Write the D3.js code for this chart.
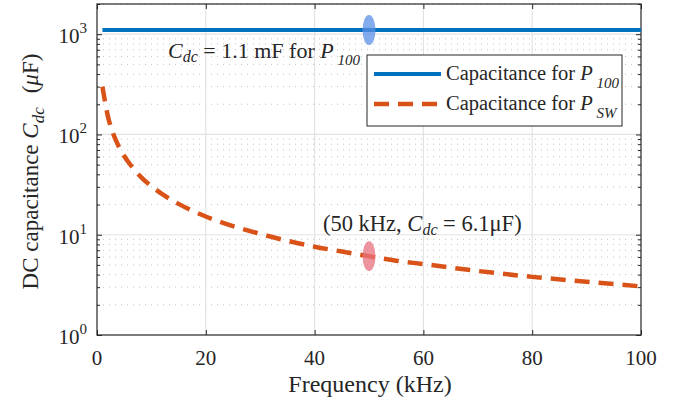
<!DOCTYPE html>
<html>
<head>
<meta charset="utf-8">
<script src="https://cdn.jsdelivr.net/npm/d3@7"></script>
<style>
  body { margin: 0; background: #fff; }
  svg, svg text, svg tspan { font-family: "Liberation Serif", "Times New Roman", "DejaVu Serif", serif; }
  svg text { fill: #262626; }
</style>
</head>
<body>
<svg id="chart" width="690" height="406" font-family="Liberation Serif, Times New Roman, serif"></svg>
<script>
// Frequency sweep (kHz) and required DC-link capacitance (µF)
const freqP100 = [1, 100];
const capP100 = [1100, 1100];
const freqPsw = [1, 2, 3, 4, 5, 6, 8, 10, 12, 15, 20, 25, 30, 35, 40, 45, 50, 55, 60, 70, 80, 90, 100];
const capPsw = [300, 152, 101, 76, 61, 51, 38, 30.5, 25.4, 20.3, 15.2, 12.2, 10.2, 8.7, 7.6, 6.8, 6.1, 5.5, 5.1, 4.35, 3.8, 3.4, 3.05];
const xTicks = [0, 20, 40, 60, 80, 100];
const yDecades = [1, 10, 100, 1000];
const yExp = ["0", "1", "2", "3"];
const markerPoints = [{ f: 50, c: 1100, color: "#5b8fe6" }, { f: 50, c: 6.1, color: "#e8707e" }];

const FONT = "Liberation Serif, Times New Roman, serif";
const svg = d3.select("#chart");
const m = { left: 97, right: 641, top: 4, bottom: 335 };
const x = d3.scaleLinear().domain([0, 100]).range([m.left, m.right]);
const y = d3.scaleLog().domain([1, 2000]).range([m.bottom, m.top]);

function txt(sel) { return sel.append("text").attr("font-family", FONT).attr("fill", "#262626"); }

// minor grid (dotted) at 2..9 of each decade
const minor = [];
yDecades.forEach(d => { for (let k = 2; k <= 9; k++) { if (d * k <= 2000) minor.push(d * k); } });
svg.append("g").selectAll("line").data(minor).join("line")
  .attr("x1", m.left).attr("x2", m.right)
  .attr("y1", d => y(d)).attr("y2", d => y(d))
  .attr("stroke", "#c4c4c4").attr("stroke-width", 1).attr("stroke-dasharray", "1,5");

// major grid
svg.append("g").selectAll("line").data(yDecades.slice(1)).join("line")
  .attr("x1", m.left).attr("x2", m.right)
  .attr("y1", d => y(d)).attr("y2", d => y(d))
  .attr("stroke", "#e3e3e3").attr("stroke-width", 1.2);
svg.append("g").selectAll("line").data(xTicks.slice(1, -1)).join("line")
  .attr("x1", d => x(d)).attr("x2", d => x(d))
  .attr("y1", m.top).attr("y2", m.bottom)
  .attr("stroke", "#e3e3e3").attr("stroke-width", 1.2);

// axes (inward ticks, boxed)
const axB = d3.axisBottom(x).tickValues(xTicks).tickSize(-5).tickFormat("");
const axT = d3.axisTop(x).tickValues(xTicks).tickSize(-5).tickFormat("");
const axL = d3.axisLeft(y).tickValues(yDecades).tickSize(-5).tickFormat("");
const axR = d3.axisRight(y).tickValues(yDecades).tickSize(-5).tickFormat("");
const axLm = d3.axisLeft(y).tickValues(minor).tickSize(-3).tickFormat("");
const axRm = d3.axisRight(y).tickValues(minor).tickSize(-3).tickFormat("");
[[axB, `translate(0,${m.bottom})`], [axT, `translate(0,${m.top})`], [axL, `translate(${m.left},0)`],
 [axR, `translate(${m.right},0)`], [axLm, `translate(${m.left},0)`], [axRm, `translate(${m.right},0)`]]
  .forEach(([a, t]) => {
    const g = svg.append("g").attr("transform", t).call(a);
    g.select(".domain").remove();
    g.selectAll("line").attr("stroke", "#262626");
  });
svg.append("rect").attr("x", m.left).attr("y", m.top)
  .attr("width", m.right - m.left).attr("height", m.bottom - m.top)
  .attr("fill", "none").attr("stroke", "#262626").attr("stroke-width", 1.2);

// tick labels
const xl = svg.append("g");
xTicks.forEach(d => {
  txt(xl).attr("x", x(d)).attr("y", 365).attr("text-anchor", "middle").attr("font-size", 21).text(d);
});
const ylg = svg.append("g");
yDecades.forEach((d, i) => {
  const t = txt(ylg).attr("x", 87).attr("y", y(d) + 9).attr("text-anchor", "end").attr("font-size", 21);
  t.append("tspan").text("10");
  t.append("tspan").attr("dy", -10).attr("font-size", 15).text(yExp[i]);
});

// axis titles
txt(svg).attr("x", (m.left + m.right) / 2 + 1).attr("y", 392)
  .attr("text-anchor", "middle").attr("font-size", 24).text("Frequency (kHz)");
const yt = txt(svg).attr("transform", `translate(38,${(m.top + m.bottom) / 2 + 2}) rotate(-90)`)
  .attr("text-anchor", "middle").attr("font-size", 23);
yt.append("tspan").text("DC capacitance ");
yt.append("tspan").attr("font-style", "italic").text("C");
yt.append("tspan").attr("font-style", "italic").attr("font-size", 17).attr("dy", 6).text("dc");
yt.append("tspan").attr("dy", -6).attr("dx", 14).text("(");
yt.append("tspan").attr("font-style", "italic").text("\u03bc");
yt.append("tspan").text("F)");

// series
const line = d3.line().x(d => x(d[0])).y(d => y(d[1]));
svg.append("path").datum(d3.zip(freqP100, capP100)).attr("d", line)
  .attr("fill", "none").attr("stroke", "#0072BD").attr("stroke-width", 4);
svg.append("path").datum(d3.zip(freqPsw, capPsw)).attr("d", d3.line().curve(d3.curveMonotoneX).x(d => x(d[0])).y(d => y(d[1])))
  .attr("fill", "none").attr("stroke", "#D95319").attr("stroke-width", 4.5)
  .attr("stroke-dasharray", "15,9");

// highlighted operating points
svg.append("g").selectAll("ellipse").data(markerPoints).join("ellipse")
  .attr("cx", d => x(d.f)).attr("cy", d => y(d.c)).attr("rx", 6.5).attr("ry", 15)
  .attr("fill", d => d.color).attr("opacity", 0.75);

// annotations
const a1 = txt(svg).attr("x", 168).attr("y", 58).attr("font-size", 22);
a1.append("tspan").attr("font-style", "italic").text("C");
a1.append("tspan").attr("font-style", "italic").attr("font-size", 16).attr("dy", 4).text("dc");
a1.append("tspan").attr("dy", -4).text(" = 1.1 mF for ");
a1.append("tspan").attr("font-style", "italic").text("P");
a1.append("tspan").attr("font-style", "italic").attr("font-size", 15).attr("dy", 7).text(" 100");

const a2 = txt(svg).attr("x", 323).attr("y", 231).attr("font-size", 22.5);
a2.append("tspan").text("(50 kHz, ");
a2.append("tspan").attr("font-style", "italic").text("C");
a2.append("tspan").attr("font-style", "italic").attr("font-size", 16).attr("dy", 4).text("dc");
a2.append("tspan").attr("dy", -4).text(" = 6.1\u03bcF)");

// legend
const lg = svg.append("g");
lg.append("rect").attr("x", 367).attr("y", 55).attr("width", 255).attr("height", 71)
  .attr("fill", "#fff").attr("stroke", "#262626").attr("stroke-width", 1);
const legendItems = [
  { label: "Capacitance for ", sub: "100", color: "#0072BD", dash: null, cy: 74 },
  { label: "Capacitance for ", sub: "SW", color: "#D95319", dash: "15,9", cy: 104 }
];
legendItems.forEach(it => {
  lg.append("line").attr("x1", 374).attr("x2", 441).attr("y1", it.cy).attr("y2", it.cy)
    .attr("stroke", it.color).attr("stroke-width", it.dash ? 4.5 : 4)
    .attr("stroke-dasharray", it.dash);
  const t = txt(lg).attr("x", 446).attr("y", it.cy + 6).attr("font-size", 20.5);
  t.append("tspan").text(it.label);
  t.append("tspan").attr("font-style", "italic").text("P");
  t.append("tspan").attr("font-style", "italic").attr("font-size", 15).attr("dy", 8).text(" " + it.sub);
});
</script>
</body>
</html>
